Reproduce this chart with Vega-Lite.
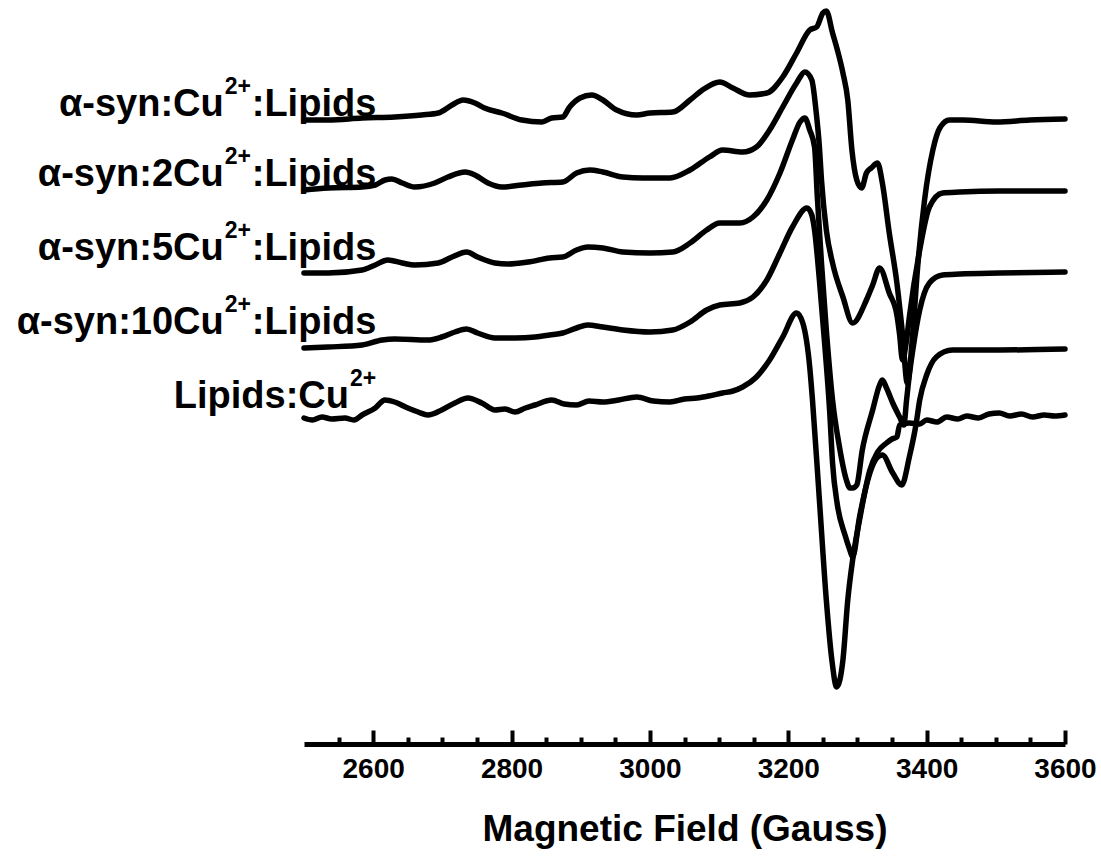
{
  "$schema": "https://vega.github.io/schema/vega-lite/v6.json",
  "width": 761,
  "height": 744,
  "autosize": {"type": "none"},
  "padding": {"left": 304, "top": 0, "right": 36, "bottom": 114},
  "background": "white",
  "config": {"view": {"stroke": null}, "font": "Liberation Sans"},
  "datasets": {
    "spectra": [
      {"s":"c1","g":2500,"v":622},{"s":"c1","g":2535,"v":622},{"s":"c1","g":2584,"v":624},{"s":"c1","g":2631,"v":625},{"s":"c1","g":2670,"v":627},{"s":"c1","g":2694,"v":629},{"s":"c1","g":2714,"v":637},{"s":"c1","g":2730,"v":642},{"s":"c1","g":2747,"v":639},{"s":"c1","g":2761,"v":634},{"s":"c1","g":2786,"v":629},{"s":"c1","g":2815,"v":622},{"s":"c1","g":2844,"v":620},{"s":"c1","g":2858,"v":624},{"s":"c1","g":2874,"v":625},{"s":"c1","g":2884,"v":635},{"s":"c1","g":2899,"v":644},{"s":"c1","g":2916,"v":647},{"s":"c1","g":2932,"v":642},{"s":"c1","g":2952,"v":632},{"s":"c1","g":2981,"v":627},{"s":"c1","g":3000,"v":629},{"s":"c1","g":3033,"v":630},{"s":"c1","g":3058,"v":642},{"s":"c1","g":3076,"v":652},{"s":"c1","g":3101,"v":660},{"s":"c1","g":3120,"v":654},{"s":"c1","g":3144,"v":647},{"s":"c1","g":3169,"v":649},{"s":"c1","g":3192,"v":665},{"s":"c1","g":3212,"v":689},{"s":"c1","g":3231,"v":712},{"s":"c1","g":3241,"v":715},{"s":"c1","g":3250,"v":729},{"s":"c1","g":3255,"v":731},{"s":"c1","g":3264,"v":709},{"s":"c1","g":3271,"v":692},{"s":"c1","g":3279,"v":669},{"s":"c1","g":3286,"v":642},{"s":"c1","g":3292,"v":592},{"s":"c1","g":3299,"v":562},{"s":"c1","g":3306,"v":554},{"s":"c1","g":3313,"v":569},{"s":"c1","g":3320,"v":574},{"s":"c1","g":3329,"v":579},{"s":"c1","g":3336,"v":559},{"s":"c1","g":3346,"v":509},{"s":"c1","g":3357,"v":459},{"s":"c1","g":3365,"v":409},{"s":"c1","g":3372,"v":359},{"s":"c1","g":3380,"v":409},{"s":"c1","g":3387,"v":475},{"s":"c1","g":3397,"v":542},{"s":"c1","g":3409,"v":592},{"s":"c1","g":3419,"v":614},{"s":"c1","g":3433,"v":622},{"s":"c1","g":3452,"v":622},{"s":"c1","g":3501,"v":620},{"s":"c1","g":3549,"v":622},{"s":"c1","g":3600,"v":623},

      {"s":"c2","g":2500,"v":552},{"s":"c2","g":2535,"v":554},{"s":"c2","g":2584,"v":555},{"s":"c2","g":2603,"v":557},{"s":"c2","g":2617,"v":562},{"s":"c2","g":2627,"v":563},{"s":"c2","g":2642,"v":559},{"s":"c2","g":2660,"v":555},{"s":"c2","g":2689,"v":559},{"s":"c2","g":2708,"v":565},{"s":"c2","g":2733,"v":570},{"s":"c2","g":2747,"v":567},{"s":"c2","g":2766,"v":559},{"s":"c2","g":2786,"v":555},{"s":"c2","g":2815,"v":557},{"s":"c2","g":2844,"v":559},{"s":"c2","g":2874,"v":560},{"s":"c2","g":2894,"v":569},{"s":"c2","g":2913,"v":572},{"s":"c2","g":2932,"v":570},{"s":"c2","g":2961,"v":565},{"s":"c2","g":2990,"v":564},{"s":"c2","g":3029,"v":564},{"s":"c2","g":3058,"v":572},{"s":"c2","g":3086,"v":585},{"s":"c2","g":3105,"v":592},{"s":"c2","g":3134,"v":590},{"s":"c2","g":3154,"v":595},{"s":"c2","g":3173,"v":612},{"s":"c2","g":3192,"v":635},{"s":"c2","g":3212,"v":659},{"s":"c2","g":3224,"v":670},{"s":"c2","g":3234,"v":662},{"s":"c2","g":3240,"v":632},{"s":"c2","g":3245,"v":595},{"s":"c2","g":3248,"v":562},{"s":"c2","g":3255,"v":512},{"s":"c2","g":3264,"v":479},{"s":"c2","g":3279,"v":445},{"s":"c2","g":3293,"v":419},{"s":"c2","g":3313,"v":442},{"s":"c2","g":3322,"v":457},{"s":"c2","g":3332,"v":474},{"s":"c2","g":3346,"v":449},{"s":"c2","g":3357,"v":427},{"s":"c2","g":3361,"v":407},{"s":"c2","g":3365,"v":382},{"s":"c2","g":3371,"v":402},{"s":"c2","g":3375,"v":425},{"s":"c2","g":3390,"v":492},{"s":"c2","g":3404,"v":535},{"s":"c2","g":3423,"v":549},{"s":"c2","g":3448,"v":550},{"s":"c2","g":3505,"v":551},{"s":"c2","g":3600,"v":551},

      {"s":"c3","g":2500,"v":469},{"s":"c3","g":2535,"v":469},{"s":"c3","g":2584,"v":472},{"s":"c3","g":2603,"v":477},{"s":"c3","g":2621,"v":482},{"s":"c3","g":2642,"v":479},{"s":"c3","g":2660,"v":477},{"s":"c3","g":2694,"v":479},{"s":"c3","g":2714,"v":485},{"s":"c3","g":2735,"v":490},{"s":"c3","g":2751,"v":485},{"s":"c3","g":2776,"v":479},{"s":"c3","g":2795,"v":478},{"s":"c3","g":2824,"v":480},{"s":"c3","g":2855,"v":484},{"s":"c3","g":2874,"v":485},{"s":"c3","g":2894,"v":492},{"s":"c3","g":2910,"v":495},{"s":"c3","g":2932,"v":494},{"s":"c3","g":2961,"v":490},{"s":"c3","g":3000,"v":489},{"s":"c3","g":3033,"v":490},{"s":"c3","g":3058,"v":499},{"s":"c3","g":3082,"v":512},{"s":"c3","g":3101,"v":519},{"s":"c3","g":3130,"v":519},{"s":"c3","g":3149,"v":525},{"s":"c3","g":3169,"v":542},{"s":"c3","g":3188,"v":569},{"s":"c3","g":3206,"v":602},{"s":"c3","g":3217,"v":620},{"s":"c3","g":3224,"v":624},{"s":"c3","g":3231,"v":612},{"s":"c3","g":3238,"v":595},{"s":"c3","g":3242,"v":545},{"s":"c3","g":3248,"v":479},{"s":"c3","g":3255,"v":412},{"s":"c3","g":3264,"v":342},{"s":"c3","g":3274,"v":295},{"s":"c3","g":3284,"v":262},{"s":"c3","g":3289,"v":254},{"s":"c3","g":3293,"v":254},{"s":"c3","g":3299,"v":257},{"s":"c3","g":3307,"v":292},{"s":"c3","g":3322,"v":332},{"s":"c3","g":3332,"v":357},{"s":"c3","g":3336,"v":362},{"s":"c3","g":3342,"v":354},{"s":"c3","g":3351,"v":339},{"s":"c3","g":3361,"v":325},{"s":"c3","g":3367,"v":317},{"s":"c3","g":3371,"v":342},{"s":"c3","g":3375,"v":367},{"s":"c3","g":3380,"v":392},{"s":"c3","g":3390,"v":432},{"s":"c3","g":3404,"v":459},{"s":"c3","g":3423,"v":467},{"s":"c3","g":3448,"v":468},{"s":"c3","g":3505,"v":469},{"s":"c3","g":3600,"v":470},

      {"s":"c4","g":2500,"v":394},{"s":"c4","g":2535,"v":395},{"s":"c4","g":2584,"v":397},{"s":"c4","g":2613,"v":402},{"s":"c4","g":2631,"v":403},{"s":"c4","g":2679,"v":402},{"s":"c4","g":2699,"v":405},{"s":"c4","g":2718,"v":410},{"s":"c4","g":2735,"v":413},{"s":"c4","g":2751,"v":409},{"s":"c4","g":2776,"v":404},{"s":"c4","g":2805,"v":404},{"s":"c4","g":2834,"v":405},{"s":"c4","g":2855,"v":407},{"s":"c4","g":2874,"v":409},{"s":"c4","g":2894,"v":414},{"s":"c4","g":2910,"v":417},{"s":"c4","g":2932,"v":415},{"s":"c4","g":2961,"v":412},{"s":"c4","g":3000,"v":410},{"s":"c4","g":3033,"v":412},{"s":"c4","g":3058,"v":420},{"s":"c4","g":3082,"v":432},{"s":"c4","g":3101,"v":437},{"s":"c4","g":3130,"v":439},{"s":"c4","g":3149,"v":445},{"s":"c4","g":3169,"v":462},{"s":"c4","g":3188,"v":489},{"s":"c4","g":3206,"v":515},{"s":"c4","g":3227,"v":534},{"s":"c4","g":3234,"v":527},{"s":"c4","g":3238,"v":512},{"s":"c4","g":3245,"v":462},{"s":"c4","g":3253,"v":395},{"s":"c4","g":3260,"v":329},{"s":"c4","g":3264,"v":279},{"s":"c4","g":3271,"v":237},{"s":"c4","g":3282,"v":207},{"s":"c4","g":3289,"v":192},{"s":"c4","g":3293,"v":185},{"s":"c4","g":3303,"v":225},{"s":"c4","g":3318,"v":269},{"s":"c4","g":3328,"v":284},{"s":"c4","g":3336,"v":287},{"s":"c4","g":3351,"v":269},{"s":"c4","g":3364,"v":257},{"s":"c4","g":3375,"v":285},{"s":"c4","g":3385,"v":319},{"s":"c4","g":3390,"v":342},{"s":"c4","g":3400,"v":367},{"s":"c4","g":3414,"v":385},{"s":"c4","g":3437,"v":392},{"s":"c4","g":3505,"v":392},{"s":"c4","g":3600,"v":393},

      {"s":"c5","g":2500,"v":324},{"s":"c5","g":2512,"v":322},{"s":"c5","g":2526,"v":325},{"s":"c5","g":2540,"v":323},{"s":"c5","g":2559,"v":324},{"s":"c5","g":2572,"v":322},{"s":"c5","g":2584,"v":327},{"s":"c5","g":2603,"v":334},{"s":"c5","g":2617,"v":342},{"s":"c5","g":2631,"v":340},{"s":"c5","g":2650,"v":334},{"s":"c5","g":2665,"v":330},{"s":"c5","g":2679,"v":327},{"s":"c5","g":2699,"v":332},{"s":"c5","g":2718,"v":339},{"s":"c5","g":2737,"v":344},{"s":"c5","g":2757,"v":339},{"s":"c5","g":2776,"v":332},{"s":"c5","g":2790,"v":333},{"s":"c5","g":2805,"v":330},{"s":"c5","g":2820,"v":334},{"s":"c5","g":2834,"v":337},{"s":"c5","g":2858,"v":342},{"s":"c5","g":2876,"v":338},{"s":"c5","g":2894,"v":337},{"s":"c5","g":2912,"v":341},{"s":"c5","g":2932,"v":340},{"s":"c5","g":2955,"v":342},{"s":"c5","g":2981,"v":345},{"s":"c5","g":3005,"v":341},{"s":"c5","g":3029,"v":340},{"s":"c5","g":3050,"v":343},{"s":"c5","g":3068,"v":344},{"s":"c5","g":3085,"v":346},{"s":"c5","g":3105,"v":349},{"s":"c5","g":3120,"v":351},{"s":"c5","g":3134,"v":355},{"s":"c5","g":3154,"v":365},{"s":"c5","g":3173,"v":382},{"s":"c5","g":3192,"v":405},{"s":"c5","g":3212,"v":429},{"s":"c5","g":3221,"v":419},{"s":"c5","g":3231,"v":375},{"s":"c5","g":3235,"v":342},{"s":"c5","g":3245,"v":242},{"s":"c5","g":3255,"v":142},{"s":"c5","g":3263,"v":82},{"s":"c5","g":3270,"v":55},{"s":"c5","g":3279,"v":82},{"s":"c5","g":3286,"v":142},{"s":"c5","g":3293,"v":182},{"s":"c5","g":3303,"v":222},{"s":"c5","g":3318,"v":272},{"s":"c5","g":3329,"v":290},{"s":"c5","g":3342,"v":299},{"s":"c5","g":3350,"v":303},{"s":"c5","g":3357,"v":305},{"s":"c5","g":3361,"v":317},{"s":"c5","g":3375,"v":319},{"s":"c5","g":3390,"v":318},{"s":"c5","g":3400,"v":322},{"s":"c5","g":3415,"v":320},{"s":"c5","g":3429,"v":325},{"s":"c5","g":3445,"v":323},{"s":"c5","g":3458,"v":326},{"s":"c5","g":3475,"v":324},{"s":"c5","g":3490,"v":328},{"s":"c5","g":3505,"v":329},{"s":"c5","g":3520,"v":326},{"s":"c5","g":3537,"v":328},{"s":"c5","g":3553,"v":325},{"s":"c5","g":3570,"v":327},{"s":"c5","g":3585,"v":326},{"s":"c5","g":3600,"v":327}
    ],
    "labels": [
      {"pre": "α-syn:Cu", "sup": "2+", "post": ":Lipids", "g": 2384, "v": 626},
      {"pre": "α-syn:2Cu", "sup": "2+", "post": ":Lipids", "g": 2384, "v": 556},
      {"pre": "α-syn:5Cu", "sup": "2+", "post": ":Lipids", "g": 2384, "v": 482},
      {"pre": "α-syn:10Cu", "sup": "2+", "post": ":Lipids", "g": 2384, "v": 408},
      {"pre": "Lipids:Cu", "sup": "2+", "post": "", "g": 2565, "v": 334}
    ]
  },
  "resolve": {"axis": {"x": "independent"}},
  "layer": [
    {
      "data": {"name": "spectra"},
      "mark": {"type": "line", "color": "black", "strokeWidth": 5.5, "strokeJoin": "round", "strokeCap": "round", "interpolate": "monotone"},
      "encoding": {
        "x": {"field": "g", "type": "quantitative",
              "scale": {"domain": [2500, 3600], "nice": false, "zero": false},
              "axis": {"orient": "bottom", "values": [2550,2650,2700,2750,2850,2900,2950,3050,3100,3150,3250,3300,3350,3450,3500,3550],
                       "tickSize": -7, "tickWidth": 4, "tickColor": "black", "labels": false, "title": null, "grid": false,
                       "domain": true, "domainWidth": 5, "domainColor": "black"}},
        "y": {"field": "v", "type": "quantitative", "scale": {"domain": [-2, 742], "nice": false, "zero": false}, "axis": null},
        "detail": {"field": "s"}
      }
    },
    {
      "data": {"name": "labels"},
      "mark": {"type": "text", "align": "right", "baseline": "alphabetic", "fontSize": 38, "fontWeight": "bold", "color": "black"},
      "encoding": {
        "x": {"field": "g", "type": "quantitative",
              "axis": {"orient": "bottom", "values": [2600, 2800, 3000, 3200, 3400, 3600], "format": "d",
                       "tickSize": -14, "tickWidth": 4, "tickColor": "black", "grid": false, "domain": false,
                       "labelPadding": 25, "labelFontSize": 28, "labelFontWeight": "bold", "labelColor": "black",
                       "labelFont": "Liberation Sans Narrow, Liberation Sans", "labelFlush": false,
                       "title": "Magnetic Field (Gauss)", "titleFontSize": 37, "titleFontWeight": "bold",
                       "titleColor": "black", "titleFont": "Liberation Sans", "titlePadding": 28}},
        "y": {"field": "v", "type": "quantitative"},
        "text": {"field": "pre"}
      }
    },
    {
      "data": {"name": "labels"},
      "mark": {"type": "text", "align": "left", "baseline": "alphabetic", "fontSize": 23, "fontWeight": "bold", "color": "black", "dx": 1, "dy": -22},
      "encoding": {
        "x": {"field": "g", "type": "quantitative", "axis": null},
        "y": {"field": "v", "type": "quantitative"},
        "text": {"field": "sup"}
      }
    },
    {
      "data": {"name": "labels"},
      "mark": {"type": "text", "align": "left", "baseline": "alphabetic", "fontSize": 38, "fontWeight": "bold", "color": "black", "dx": 28},
      "encoding": {
        "x": {"field": "g", "type": "quantitative", "axis": null},
        "y": {"field": "v", "type": "quantitative"},
        "text": {"field": "post"}
      }
    }
  ]
}
